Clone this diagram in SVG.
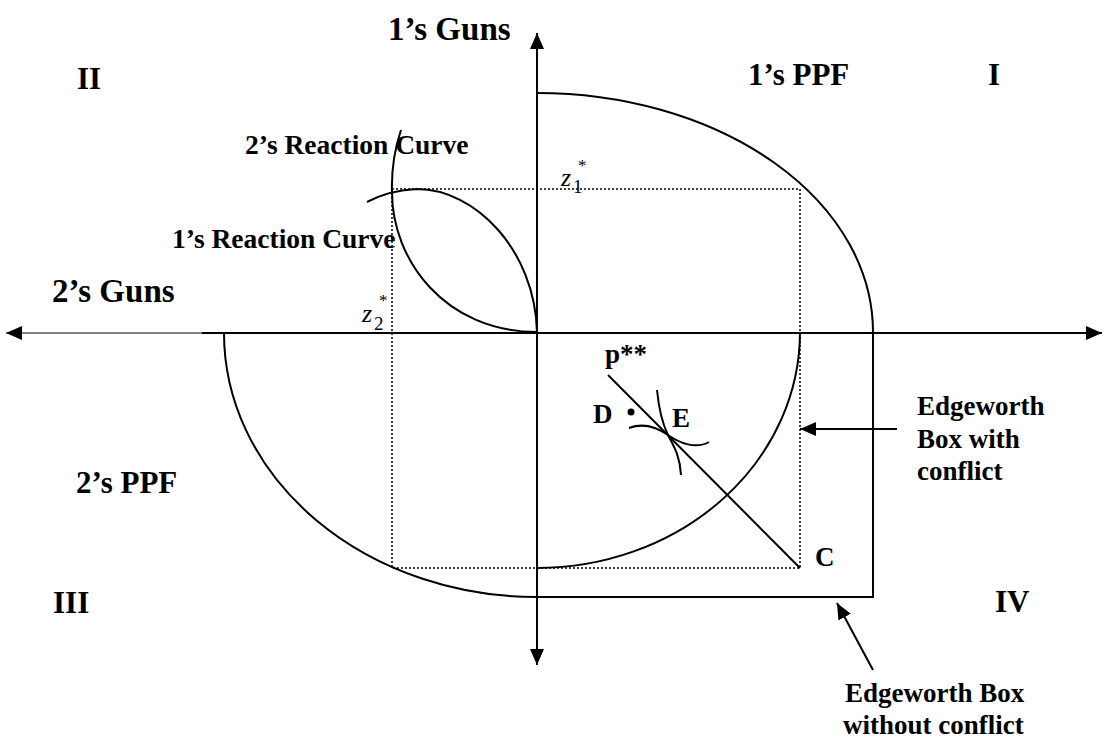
<svg xmlns="http://www.w3.org/2000/svg" width="1105" height="738" viewBox="0 0 1105 738">
<style>
.ln{fill:none;stroke:#000;stroke-width:2}
.thin{fill:none;stroke:#000;stroke-width:1.2}
.dot{fill:none;stroke:#000;stroke-width:1.5;stroke-dasharray:2 2}
.t{font-family:"Liberation Serif","Times New Roman",serif;font-weight:bold;fill:#000}
.z{font-family:"Liberation Serif","Times New Roman",serif;font-style:italic;fill:#000}
.s{font-family:"Liberation Serif","Times New Roman",serif;fill:#000}
</style>
<defs>
<marker id="ah" markerUnits="userSpaceOnUse" markerWidth="16" markerHeight="14" refX="16" refY="7" orient="auto-start-reverse">
<path d="M0,0 L16,7 L0,14 z" fill="#000"/>
</marker>
</defs>
<rect width="1105" height="738" fill="#fff"/>
<g id="axes">
<line class="ln" x1="537" y1="33" x2="537" y2="665" marker-start="url(#ah)" marker-end="url(#ah)"/>
<line class="thin" x1="202" y1="333" x2="6" y2="333" marker-end="url(#ah)"/>
<line class="ln" x1="202" y1="333" x2="1102" y2="333" marker-end="url(#ah)"/>
</g>
<g id="box-conflict">
<path class="dot" d="M392,189 H800 V568 H392 Z"/>
</g>
<g id="ppf1">
<path class="ln" d="M537,93 A336,239 0 0 1 873,332"/>
</g>
<g id="ppf2">
<path class="ln" d="M224,333 A313,264 0 0 0 537,597"/>
</g>
<g id="box-noconflict">
<path class="ln" d="M873,332 V597 H537"/>
</g>
<g id="inner-ppf">
<path class="ln" d="M800,332 A263,236 0 0 1 537,568"/>
</g>
<g id="reaction2">
<path class="ln" d="M401,130 Q391,160 392,192 C392,260 445,332 537,332"/>
</g>
<g id="reaction1">
<path class="ln" d="M367,202 Q390,190 417,189 C475,189 535,250 537,332"/>
</g>
<g id="budget">
<line class="ln" x1="608" y1="375" x2="800" y2="568"/>
<path class="ln" d="M629,428 C645,422 658,428 668,435 S695,450 709,442"/>
<path class="ln" d="M657,390 C659,410 663,425 668,435 S680,455 681,475"/>
<circle cx="631" cy="412" r="3.5" fill="#000"/>
</g>
<g id="connectors">
<line class="ln" x1="897" y1="429" x2="800" y2="429" marker-end="url(#ah)"/>
<line class="ln" x1="873" y1="670" x2="837" y2="603" marker-end="url(#ah)"/>
</g>
<g id="labels">
<text class="t" x="388" y="40" font-size="33">1’s Guns</text>
<text class="t" x="52" y="302" font-size="33">2’s Guns</text>
<text class="t" x="748" y="85" font-size="31">1’s PPF</text>
<text class="t" x="76" y="493" font-size="31">2’s PPF</text>
<text class="t" x="77" y="89" font-size="31">II</text>
<text class="t" x="988" y="85" font-size="31">I</text>
<text class="t" x="53" y="613" font-size="31">III</text>
<text class="t" x="995" y="612" font-size="31">IV</text>
<text class="t" x="245" y="154" font-size="27.5">2’s Reaction Curve</text>
<text class="t" x="172" y="248" font-size="27.5">1’s Reaction Curve</text>
<text class="t" x="605" y="363" font-size="27">p**</text>
<text class="t" x="593" y="423" font-size="27">D</text>
<text class="t" x="672" y="427" font-size="27">E</text>
<text class="t" x="815" y="566" font-size="27">C</text>
<text class="t" x="917" y="415" font-size="27">Edgeworth</text>
<text class="t" x="917" y="448" font-size="27">Box with</text>
<text class="t" x="917" y="480" font-size="27">conflict</text>
<text class="t" x="845" y="702" font-size="27">Edgeworth Box</text>
<text class="t" x="843" y="734" font-size="27">without conflict</text>
<text class="z" x="561" y="186" font-size="26">z</text>
<text class="s" x="573" y="193" font-size="19">1</text>
<text class="s" x="578" y="171" font-size="17">*</text>
<text class="z" x="362" y="322" font-size="26">z</text>
<text class="s" x="374" y="330" font-size="19">2</text>
<text class="s" x="379" y="306" font-size="17">*</text>
</g>
</svg>
